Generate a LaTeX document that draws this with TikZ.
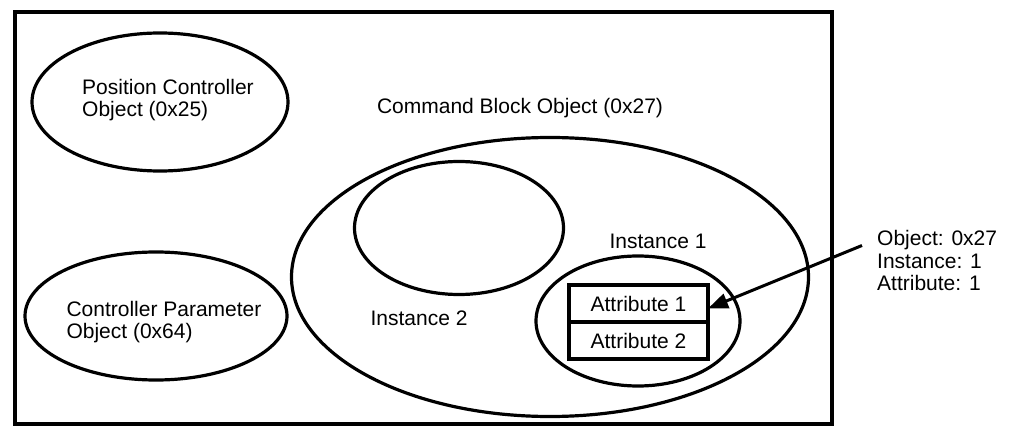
\documentclass[tikz,border=0pt]{standalone}
\usepackage{fontspec}
\setmainfont{Liberation Sans}
\usetikzlibrary{shapes.geometric,arrows.meta,calc}
\begin{document}
\begin{tikzpicture}[x=1pt,y=-1pt,
  lbl/.style={font=\fontsize{21}{22.5}\selectfont, inner sep=0pt, align=left},
  oval/.style={draw, ellipse, line width=3.2pt, inner sep=0pt},
  cell/.style={draw, rectangle, line width=3.2pt, minimum width=139pt, minimum height=37pt, inner sep=0pt, outer sep=0pt, font=\fontsize{21}{22.5}\selectfont},
  pointer/.style={line width=3pt, -{Triangle[length=20pt,width=15pt]}}]
\useasboundingbox (0,0) rectangle (1013,433);
\node[draw, line width=3.6pt, minimum width=817pt, minimum height=412pt, inner sep=0pt] (frame) at (423.5,218) {};
\node[oval, minimum width=256pt, minimum height=138pt] (pos) at (160,102) {};
\node[lbl] (postext) at (168,100) {Position Controller\\Object (0x25)};
\node[oval, minimum width=262pt, minimum height=128pt] (par) at (156,316) {};
\node[lbl] (partext) at (164,322) {Controller Parameter\\Object (0x64)};
\node[oval, minimum width=517pt, minimum height=279pt] (cmd) at (550,277) {};
\node[lbl] (cmdtext) at (520,108) {Command Block Object (0x27)};
\node[oval, minimum width=209pt, minimum height=133pt] (inst2) at (459,228) {};
\node[lbl] (inst2text) at (419,318) {Instance 2};
\node[oval, minimum width=204pt, minimum height=130pt] (inst1) at (638,321) {};
\node[lbl] (inst1text) at (658,241) {Instance 1};
\node[cell] (a1) at (638.5,303.5) {Attribute 1};
\node[cell, anchor=north] (a2) at (a1.south) {Attribute 2};
\node[lbl, anchor=west] (info) at (877,260.5) {Object: 0x27\\Instance: 1\\Attribute: 1};
\coordinate (tail) at ($(info.west)+(-15,-15)$);
\coordinate (tip) at ($(a1.east)+(0,5)$);
\draw[pointer] (tail) -- (tip);
\end{tikzpicture}
\end{document}
